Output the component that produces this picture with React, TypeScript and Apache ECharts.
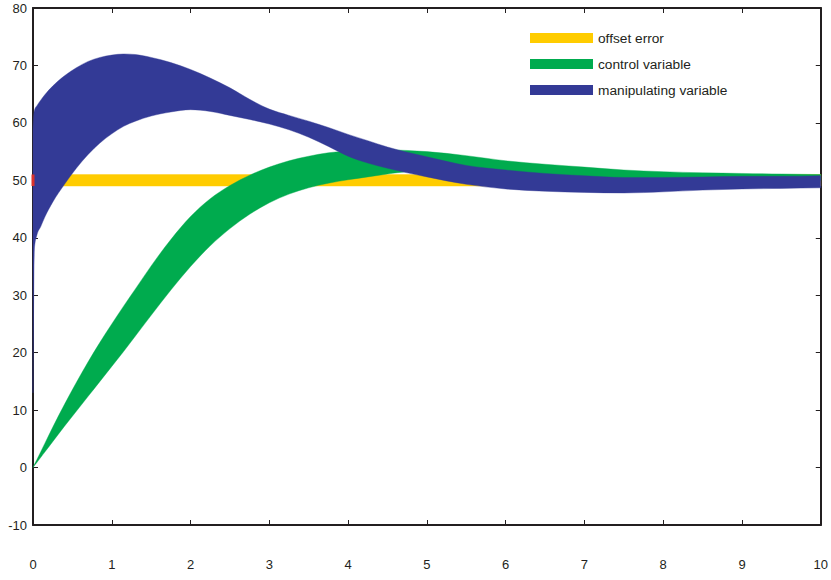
import React, { useEffect, useRef } from "react";
import * as echarts from "echarts";

// time axis samples
const xs = [0, 0.01, 0.02, 0.05, 0.1, 0.15, 0.25, 0.4, 0.55, 0.7, 0.85, 1, 1.15, 1.3, 1.5, 1.75, 2, 2.25, 2.5, 2.75, 3, 3.25, 3.5, 3.75, 4, 4.25, 4.5, 4.75, 5, 5.5, 6, 6.5, 7, 7.5, 8, 8.5, 9, 9.5, 10];

// manipulating variable band
const blueUpper = [59, 61.5, 62.3, 63, 64, 64.9, 66.4, 68.2, 69.6, 70.7, 71.4, 71.8, 72, 71.9, 71.4, 70.5, 69.3, 67.8, 66.1, 64.1, 62.4, 61.3, 60.3, 59.2, 58, 56.9, 55.8, 54.9, 54.1, 52.6, 51.8, 51.2, 50.8, 50.5, 50.5, 50.6, 50.7, 50.7, 50.8];
const blueLower = [13, 32, 38.5, 40.5, 42, 43.6, 46.2, 49.3, 52.1, 54.5, 56.5, 58.1, 59.4, 60.3, 61.2, 61.9, 62.3, 62, 61.3, 60.6, 59.8, 58.8, 57.5, 55.9, 54.2, 53, 52.1, 51.3, 50.6, 49.3, 48.5, 48.1, 47.9, 47.8, 48, 48.3, 48.5, 48.6, 48.7];

// control variable band
const greenUpper = [0, 0.3, 0.6, 1.4, 2.8, 4.2, 7, 11, 14.8, 18.4, 21.8, 25, 28.1, 31.1, 35.1, 39.7, 43.7, 46.8, 49.1, 50.9, 52.3, 53.4, 54.2, 54.8, 55.1, 55.3, 55.3, 55.2, 55, 54.3, 53.4, 52.8, 52.3, 51.8, 51.5, 51.3, 51.2, 51.1, 51];
const greenLower = [0, 0.2, 0.4, 0.9, 1.8, 2.7, 4.5, 7.2, 9.8, 12.4, 15, 17.6, 20.2, 22.9, 26.5, 30.9, 35, 38.6, 41.6, 44.1, 46.1, 47.6, 48.7, 49.5, 50.1, 50.6, 51.1, 51.5, 51.6, 51.3, 51, 50.7, 50.5, 50.3, 50.2, 50.1, 50, 50, 50];

// offset error band
const offsetX = [0, 10];
const offsetLower = [49, 49];
const offsetUpper = [51, 51];

// red start marker
const markerX = [0, 0];
const markerY = [49, 51];

const names = ["offset error", "control variable", "manipulating variable"];
const xTicks = { min: 0, max: 10, interval: 1 };
const yTicks = { min: -10, max: 80, interval: 10 };

const FONT = "'Liberation Sans', Arial, Helvetica, sans-serif";
const INK = "#231F20";

// monotone-x cubic tangents (pixel space)
function tangents(p: number[][]): number[] {
  const n = p.length;
  const m: number[] = new Array(n).fill(0);
  if (n < 2) return m;
  const d: number[] = [];
  const h: number[] = [];
  for (let i = 0; i < n - 1; i++) {
    h[i] = p[i + 1][0] - p[i][0];
    d[i] = h[i] !== 0 ? (p[i + 1][1] - p[i][1]) / h[i] : 0;
  }
  for (let i = 1; i < n - 1; i++) {
    const s0 = d[i - 1], s1 = d[i], h0 = h[i - 1], h1 = h[i];
    const pp = (s0 * h1 + s1 * h0) / (h0 + h1 || 1);
    m[i] = (Math.sign(s0) + Math.sign(s1)) * Math.min(Math.abs(s0), Math.abs(s1), 0.5 * Math.abs(pp)) || 0;
  }
  m[0] = n > 2 ? (3 * d[0] - m[1]) / 2 : d[0];
  m[n - 1] = n > 2 ? (3 * d[n - 2] - m[n - 2]) / 2 : d[n - 2];
  return m;
}

function bandPath(up: number[][], lo: number[][]): string {
  const f = (v: number) => v.toFixed(2);
  const mu = tangents(up);
  const ml = tangents(lo);
  let s = `M${f(up[0][0])},${f(up[0][1])}`;
  for (let i = 0; i < up.length - 1; i++) {
    const [x0, y0] = up[i];
    const [x1, y1] = up[i + 1];
    const dx = (x1 - x0) / 3;
    s += `C${f(x0 + dx)},${f(y0 + dx * mu[i])},${f(x1 - dx)},${f(y1 - dx * mu[i + 1])},${f(x1)},${f(y1)}`;
  }
  const n = lo.length;
  s += `L${f(lo[n - 1][0])},${f(lo[n - 1][1])}`;
  for (let i = n - 1; i > 0; i--) {
    const [x1, y1] = lo[i];
    const [x0, y0] = lo[i - 1];
    const dx = (x1 - x0) / 3;
    s += `C${f(x1 - dx)},${f(y1 - dx * ml[i])},${f(x0 + dx)},${f(y0 + dx * ml[i - 1])},${f(x0)},${f(y0)}`;
  }
  return s + "Z";
}

function band(name: string, color: string, xv: number[], lo: number[], hi: number[]) {
  return {
    type: "custom",
    name,
    coordinateSystem: "cartesian2d",
    itemStyle: { color },
    silent: true,
    data: xv.map((x, i) => [x, lo[i], hi[i]]),
    encode: { x: 0, y: [1, 2] },
    renderItem: (params: any, api: any) => {
      if (params.dataIndex !== 0) return null;
      const up = xv.map((x, i) => api.coord([x, hi[i]]));
      const dn = xv.map((x, i) => api.coord([x, lo[i]]));
      return {
        type: "path",
        shape: { pathData: bandPath(up, dn) },
        style: { fill: color, stroke: color, lineWidth: 0.4 },
      };
    },
  };
}

export default function App() {
  const ref = useRef<HTMLDivElement>(null);
  useEffect(() => {
    if (!ref.current) return;
    const chart = echarts.init(ref.current, null, { renderer: "svg" });
    const axisCommon = {
      axisLine: { show: true, onZero: false, lineStyle: { color: INK, width: 2 } },
      axisTick: { show: true, inside: true, length: 5, lineStyle: { color: INK, width: 1 } },
      splitLine: { show: false },
    };
    chart.setOption({
      animation: false,
      backgroundColor: "#ffffff",
      grid: { left: 33, right: 8, top: 8, bottom: 55, containLabel: false },
      legend: {
        data: [
          { name: names[0], icon: "rect" },
          { name: names[1], icon: "rect" },
          { name: names[2], icon: "rect" },
        ],
        orient: "vertical",
        left: 530,
        top: 31,
        padding: 0,
        itemWidth: 63,
        itemHeight: 10,
        itemGap: 12,
        selectedMode: false,
        textStyle: { fontSize: 13.7, color: INK, fontFamily: FONT },
      },
      xAxis: [
        {
          type: "value", position: "bottom", ...xTicks, ...axisCommon,
          axisLabel: { show: true, margin: 33, fontSize: 13, color: INK, fontFamily: FONT },
        },
        {
          type: "value", position: "top", ...xTicks, ...axisCommon,
          axisLabel: { show: false },
        },
      ],
      yAxis: [
        {
          type: "value", position: "left", ...yTicks, ...axisCommon,
          axisLabel: { show: true, margin: 6, fontSize: 13, color: INK, fontFamily: FONT },
        },
        {
          type: "value", position: "right", ...yTicks, ...axisCommon,
          axisLabel: { show: false },
        },
      ],
      series: [
        band(names[0], "#FFCC00", offsetX, offsetLower, offsetUpper),
        band(names[1], "#00AB4E", xs, greenLower, greenUpper),
        band(names[2], "#333A96", xs, blueLower, blueUpper),
        {
          type: "line",
          name: "start",
          data: markerX.map((x, i) => [x, markerY[i]]),
          symbol: "none",
          silent: true,
          lineStyle: { color: "#D9312B", width: 3 },
          z: 5,
        },
      ],
    });
    return () => chart.dispose();
  }, []);
  return <div ref={ref} style={{ position: "absolute", left: 0, top: 0, width: 831, height: 580 }} />;
}
